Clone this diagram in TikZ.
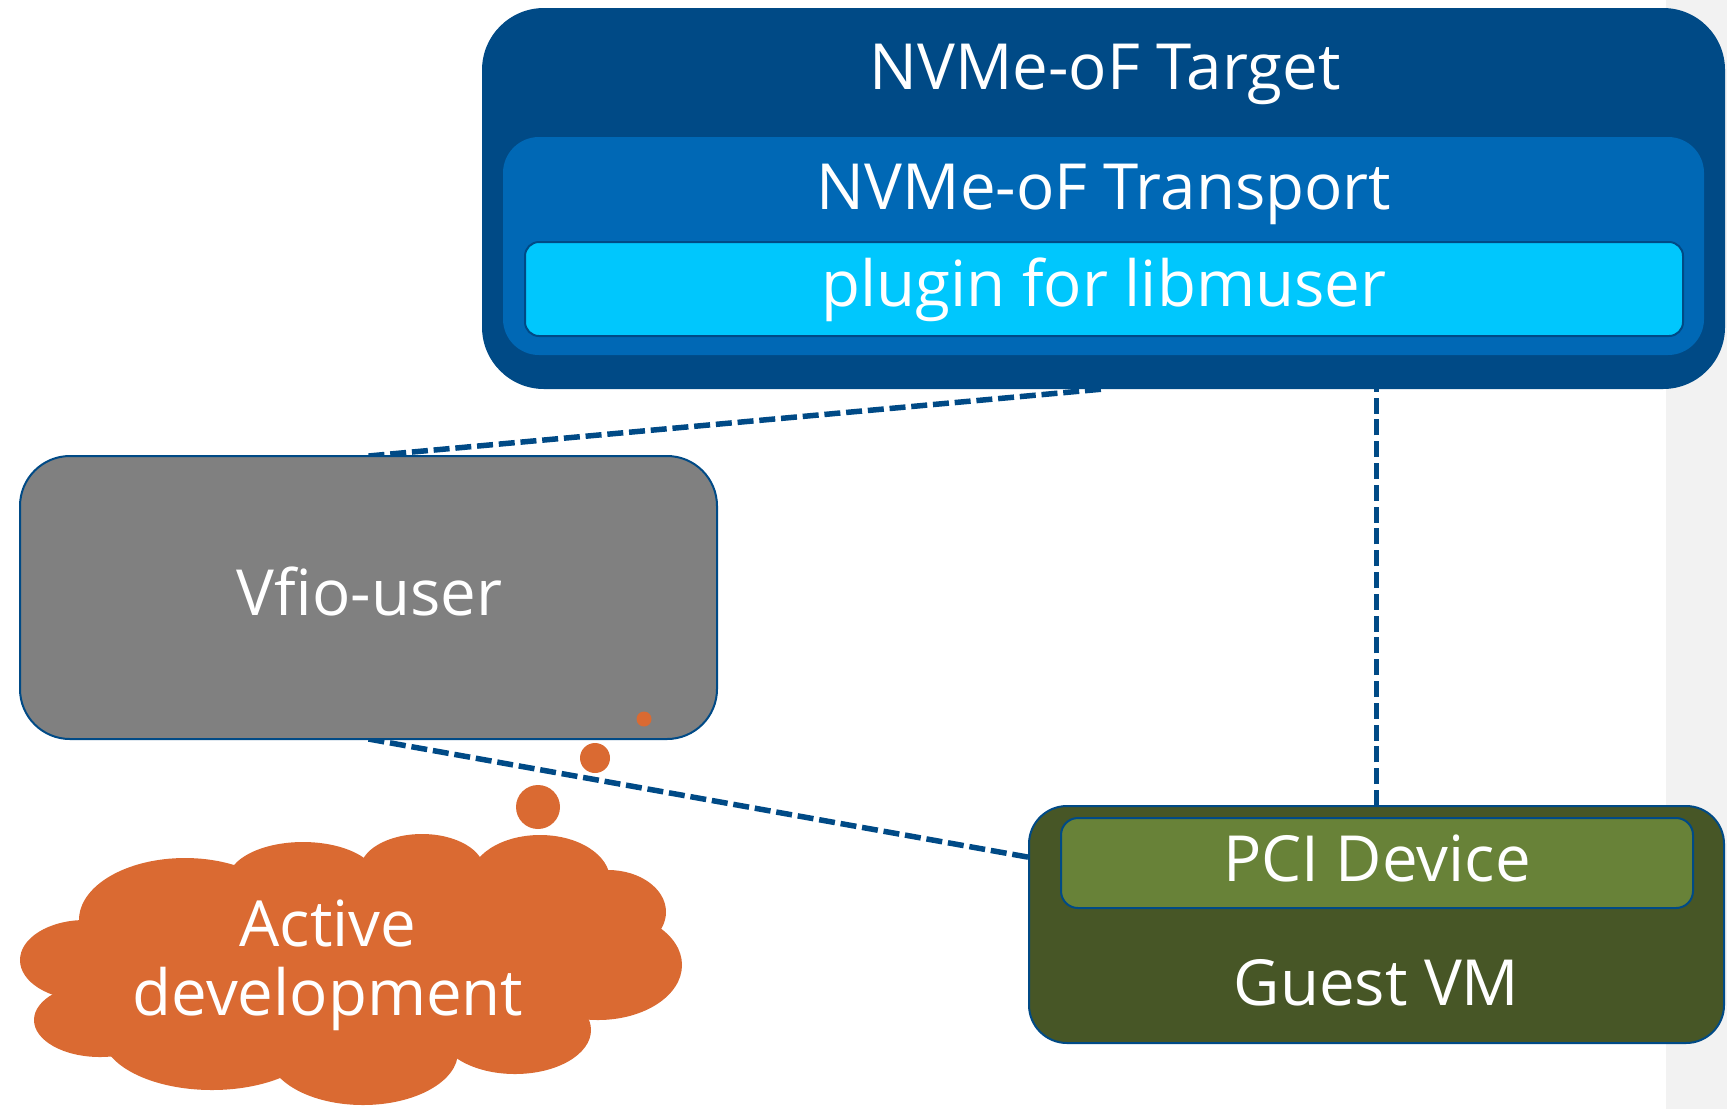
\documentclass[tikz,border=0pt]{standalone}
\usepackage{fontspec}
\setmainfont{Open Sans}
\usetikzlibrary{backgrounds}

\definecolor{tgtblue}{RGB}{0,74,134}
\definecolor{trblue}{RGB}{0,104,181}
\definecolor{plugcyan}{RGB}{0,199,253}
\definecolor{edgeblue}{RGB}{0,74,134}
\definecolor{vfiogray}{RGB}{128,128,128}
\definecolor{vmolive}{RGB}{71,86,38}
\definecolor{pcigreen}{RGB}{104,130,56}
\definecolor{cloudorange}{RGB}{218,106,50}
\definecolor{stripgray}{RGB}{242,242,242}

\begin{document}
\begin{tikzpicture}[x=0.5pt,y=-0.5pt,
  box/.style={rectangle, inner sep=0pt, outer sep=0pt},
  lbl/.style={text=white, font=\fontsize{31.8}{38}\selectfont, inner sep=0pt, anchor=base},
  conn/.style={draw=edgeblue, line width=2.75pt, dash pattern=on 8pt off 2.9pt},
  blob/.style={fill=cloudorange, draw=none},
  bubble/.style={circle, fill=cloudorange, inner sep=0pt},
]
\useasboundingbox (0,0) rectangle (1727,1109);

% ---- boxes ----
\node[box, fill=tgtblue, rounded corners=31pt,
      minimum width=621.5pt, minimum height=190.5pt] (target) at (1103.5,198.5) {};
\node[box, fill=trblue, rounded corners=18pt,
      minimum width=600.5pt, minimum height=109pt] (transport) at (1103.5,246) {};
\node[box, fill=plugcyan, draw=edgeblue, line width=1pt, rounded corners=7pt,
      minimum width=579pt, minimum height=47pt] (plugin) at (1104,289) {};

\node[box, fill=vfiogray, draw=edgeblue, line width=1pt, rounded corners=25pt,
      minimum width=348.5pt, minimum height=141.5pt] (vfio) at (368.5,597.5) {};

\node[box, fill=vmolive, draw=edgeblue, line width=1pt, rounded corners=19pt,
      minimum width=347.5pt, minimum height=118.5pt] (guest) at (1376.5,924.5) {};
\node[box, fill=pcigreen, draw=edgeblue, line width=1pt, rounded corners=8.5pt,
      minimum width=316pt, minimum height=45pt] (pci) at (1377,863) {};

% ---- labels ----
\node[lbl] (tgtlbl) at (1105,89) {NVMe-oF Target};
\node[lbl] (trlbl) at (1104,209) {NVMe-oF Transport};
\node[lbl] (pluglbl) at (1104,306) {plugin for libmuser};
\node[lbl] (vfiolbl) at (369.5,615) {Vfio-user};
\node[lbl] (pcilbl) at (1377,881) {PCI Device};
\node[lbl] (guestlbl) at (1376.5,1005) {Guest VM};

% ---- thought cloud ----
\fill[blob] (185,920) ellipse [x radius=106, y radius=62];
\fill[blob] (303,880) ellipse [x radius=75, y radius=38];
\fill[blob] (422,870) ellipse [x radius=62, y radius=36];
\fill[blob] (540,880) ellipse [x radius=70, y radius=45];
\fill[blob] (608,912) ellipse [x radius=58, y radius=42];
\fill[blob] (598,965) ellipse [x radius=84, y radius=55];
\fill[blob] (515,1030) ellipse [x radius=76, y radius=44];
\fill[blob] (363,1052) ellipse [x radius=95, y radius=53];
\fill[blob] (212,1034) ellipse [x radius=110, y radius=56];
\fill[blob] (100,1020) ellipse [x radius=66, y radius=37];
\fill[blob] (85,960) ellipse [x radius=65, y radius=40];
\fill[blob] (355,965) ellipse [x radius=265, y radius=95];

\node[lbl] (act1) at (328,946) {Active};
\node[lbl] (act2) at (328,1015) {development};

\node[bubble, minimum size=22pt] (dotL) at (538,807) {};
\node[bubble, minimum size=15pt] (dotM) at (595,758) {};
\node[bubble, minimum size=7.5pt] (dotS) at (644,719) {};

% ---- backdrop and connectors ----
\begin{pgfonlayer}{background}
  \fill[stripgray] (1666,0) rectangle (1727,1109);
  \draw[conn] (vfio.north) -- (target.south);
  \draw[conn] (vfio.south) -- (pci.west);
  \draw[conn] (guest.north) -- (guest.north |- target.south);
\end{pgfonlayer}
\end{tikzpicture}
\end{document}
